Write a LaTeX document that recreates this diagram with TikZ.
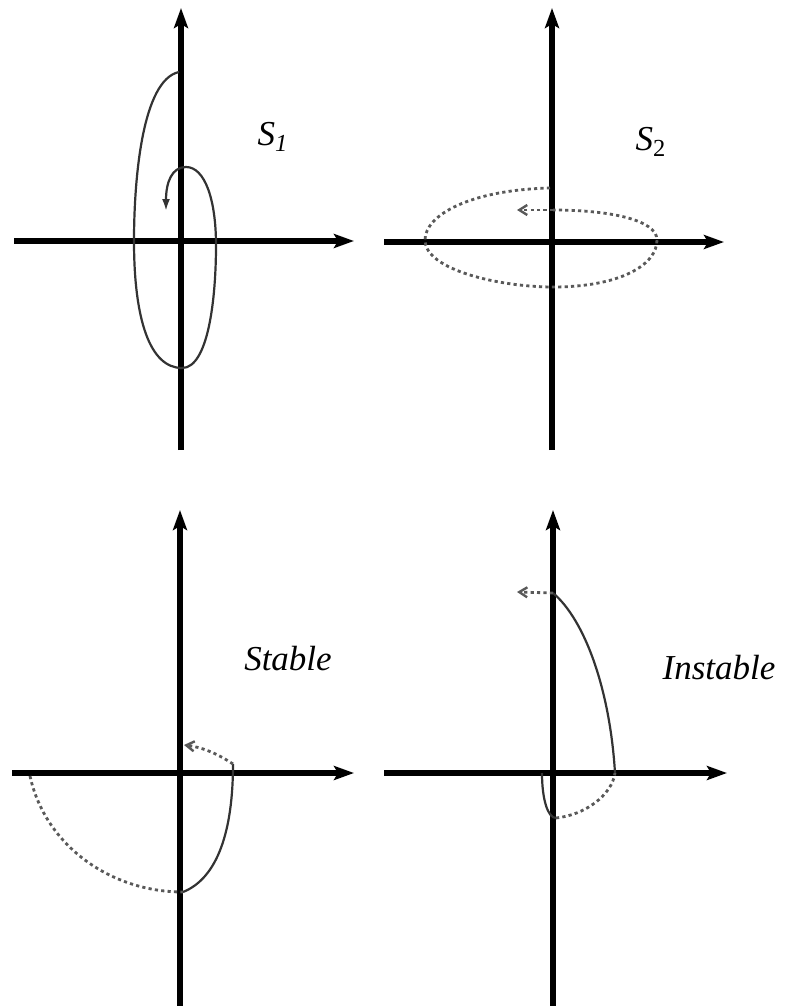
\documentclass[tikz,border=0pt]{standalone}
\usepackage{fontspec}
\setmainfont{Liberation Serif}
\usetikzlibrary{arrows.meta}

\tikzset{
  axis/.style={line width=2.6pt, -{Stealth[length=10pt,width=7pt,inset=2pt]}},
  orbit/.style={line width=1.1pt, draw=black!80},
  orbitdots/.style={line width=1.4pt, draw=black!65, dash pattern=on 1.6pt off 1.6pt},
  tipfull/.style={-{Latex[length=6pt,width=4pt]}},
  tipopen/.style={-{Straight Barb[length=4pt,width=5pt,line width=1.2pt]}},
  caption/.style={font=\fontsize{17.5}{20}\selectfont\itshape, inner sep=0pt}
}

\begin{document}
\begin{tikzpicture}[x=0.5pt, y=-0.5pt]
    \useasboundingbox (0,0) rectangle (790,1006);

    % Axes of the four phase planes
    \draw[axis] (181,450) -- (181,8);
    \draw[axis] (14,241) -- (354,241);
    \draw[axis] (552,450) -- (552,8);
    \draw[axis] (384,242) -- (724,242);
    \draw[axis] (180,1006) -- (180,510);
    \draw[axis] (12,773) -- (354,773);
    \draw[axis] (553,1006) -- (553,510);
    \draw[axis] (384,773) -- (727,773);

    % S1 : solid orbit spiralling inwards
    \draw[orbit, tipfull] (179,72) .. controls (142,80) and (134,180) .. (134,241)
        .. controls (134,320) and (150,368) .. (182,368)
        .. controls (208,368) and (216,300) .. (216,245)
        .. controls (216,200) and (205,167) .. (186,167)
        .. controls (172,167) and (166,182) .. (166,211);

    % S2 : dotted orbit
    \draw[orbitdots] (550,188) .. controls (470,190) and (425,215) .. (425,240)
        .. controls (425,270) and (500,287) .. (553,287)
        .. controls (620,287) and (657,265) .. (657,240)
        .. controls (657,220) and (610,210) .. (553,210);
    \draw[orbitdots, tipopen] (553,210) -- (517,210);

    % Stable : the trajectory comes back to the origin
    \draw[orbitdots] (30,776) .. controls (45,845) and (110,892) .. (183,892);
    \draw[orbit] (183,892) .. controls (218,878) and (233,830) .. (233,764);
    \draw[orbitdots, tipopen] (233,764) .. controls (215,752) and (200,747) .. (184,745);

    % Instable : the trajectory runs away
    \draw[orbit] (542,773) .. controls (542,800) and (548,818) .. (556,818);
    \draw[orbitdots] (556,818) .. controls (585,815) and (612,795) .. (615,773);
    \draw[orbit] (615,773) .. controls (610,690) and (585,620) .. (553,593);
    \draw[orbitdots, tipopen] (553,593) -- (517,592);

    % Labels
    \node[caption] (s1) at (273,137) {S\textsubscript{1}};
    \node[caption] (s2) at (651,142) {S\textsubscript{\upshape 2}};
    \node[caption] (stable) at (288,659) {Stable};
    \node[caption] (instable) at (719,668) {Instable};
\end{tikzpicture}
\end{document}
